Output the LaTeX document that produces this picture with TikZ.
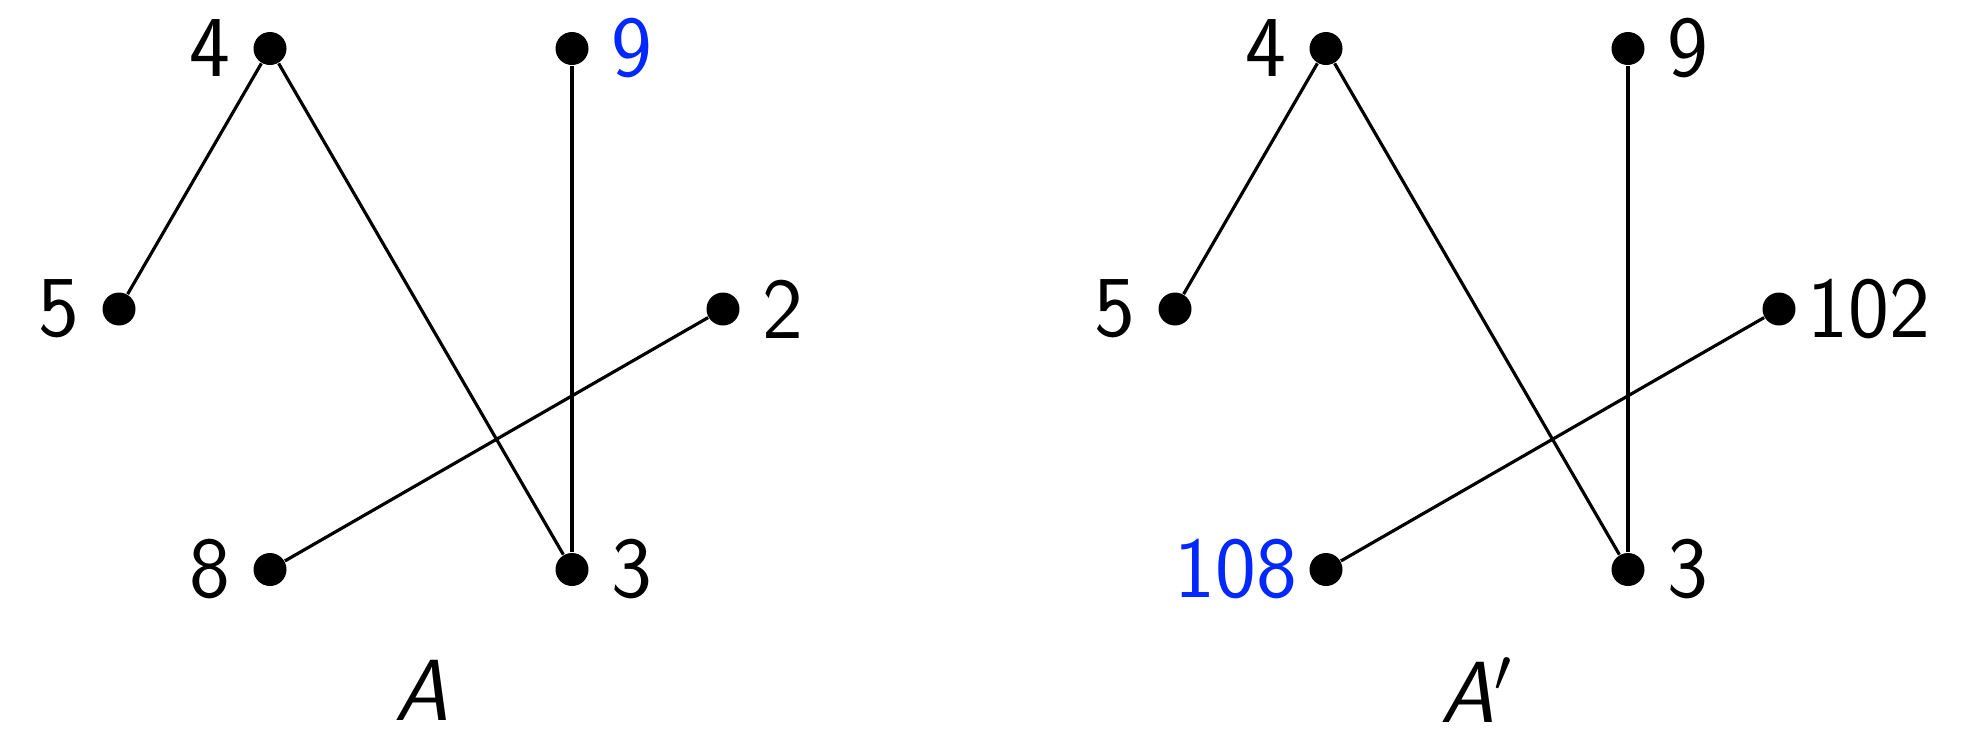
\documentclass[tikz,border=0pt]{standalone}
\usepackage{fontspec}
\definecolor{hl}{RGB}{0,40,255}
\begin{document}
\begin{tikzpicture}[x=1cm,y=-1cm,
  dot/.style={circle,fill=black,inner sep=0pt,minimum size=0.33cm},
  edge/.style={line width=0.9pt},
  every label/.style={inner sep=0pt,font=\sffamily\fontsize{24.7pt}{30pt}\selectfont},
  label distance=0.22cm,
  caption/.style={inner sep=0pt,font=\fontsize{24.7pt}{30pt}\selectfont}]
\useasboundingbox (0,0) rectangle (19.62,7.56);
% left graph, center (4.21,3.09)
\begin{scope}[shift={(4.21,3.09)}]
\node[dot,label=left:4] (L4) at (-1.51,-2.605) {};
\node[dot,label={right:\textcolor{hl}{9}}] (L9) at (1.51,-2.605) {};
\node[dot,label=left:5] (L5) at (-3.02,0) {};
\node[dot,label=right:2] (L2) at (3.02,0) {};
\node[dot,label=left:8] (L8) at (-1.51,2.605) {};
\node[dot,label=right:3] (L3) at (1.51,2.605) {};
\draw[edge] (L4) -- (L5);
\draw[edge] (L4) -- (L3);
\draw[edge] (L9) -- (L3);
\draw[edge] (L2) -- (L8);
\node[caption] (LA) at (0.01,3.81) {\sffamily\itshape A};
\end{scope}
% right graph, center (14.77,3.09)
\begin{scope}[shift={(14.77,3.09)}]
\node[dot,label=left:4] (R4) at (-1.51,-2.605) {};
\node[dot,label=right:9] (R9) at (1.51,-2.605) {};
\node[dot,label=left:5] (R5) at (-3.02,0) {};
\node[dot,label={[label distance=0.11cm]right:102}] (R2) at (3.02,0) {};
\node[dot,label={[label distance=0.11cm]left:\textcolor{hl}{108}}] (R8) at (-1.51,2.605) {};
\node[dot,label=right:3] (R3) at (1.51,2.605) {};
\draw[edge] (R4) -- (R5);
\draw[edge] (R4) -- (R3);
\draw[edge] (R9) -- (R3);
\draw[edge] (R2) -- (R8);
\node[caption] (RA) at (0.0,3.81) {{\sffamily\itshape A}$'$};
\end{scope}
\end{tikzpicture}
\end{document}
